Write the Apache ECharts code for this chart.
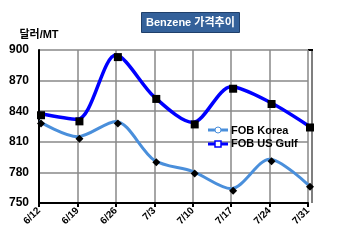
<!DOCTYPE html>
<html><head><meta charset="utf-8">
<script src="https://cdn.jsdelivr.net/npm/echarts@6/dist/echarts.min.js"></script>
<style>html,body{margin:0;padding:0;background:#fff}#c{width:350px;height:251px}</style>
</head><body><div id="c"></div>
<script>
const categories = ['6/12','6/19','6/26','7/3','7/10','7/17','7/24','7/31'];
const fobKorea = [830, 815, 830, 792, 781, 764, 793, 768];
const fobUSGulf = [838, 832, 895, 854, 829, 864, 849, 826];
const yTicks = [750, 780, 810, 840, 870, 900];

const chart = echarts.init(document.getElementById('c'));
const font = 'Arial, "Liberation Sans", "Noto Sans CJK KR", sans-serif';
const cKorea = '#4A8FDB', cUS = '#0000FF';
chart.setOption({
  animation: false,
  backgroundColor: '#fff',
  title: {
    text: 'Benzene 가격추이',
    left: 141, top: 12,
    backgroundColor: '#34619A',
    borderColor: '#1F3F6A', borderWidth: 1,
    padding: [5, 5, 5, 5],
    textStyle: { color: '#fff', fontSize: 11, fontWeight: 'bold', fontFamily: font }
  },
  grid: { left: 39, right: 42, top: 50, bottom: 48 },
  legend: {
    orient: 'vertical', left: 206, top: 125, padding: 0,
    itemWidth: 20, itemHeight: 8, itemGap: 2,
    textStyle: { fontSize: 11, fontWeight: 'bold', color: '#000', fontFamily: font },
    data: [
      { name: 'FOB Korea', icon: 'rect', itemStyle: { opacity: 0 } },
      { name: 'FOB US Gulf', icon: 'rect', itemStyle: { opacity: 0 } }
    ]
  },
  xAxis: {
    type: 'category', data: categories, boundaryGap: false,
    axisLine: { lineStyle: { color: '#000', width: 2 } },
    axisTick: { show: true, length: 4, lineStyle: { color: '#000', width: 2 } },
    splitLine: { show: true, lineStyle: { color: '#888', width: 1.5 } },
    axisLabel: { rotate: 45, color: '#000', fontSize: 10, fontWeight: 'bold', fontFamily: font, margin: 6 }
  },
  yAxis: {
    type: 'value', min: 750, max: 900, interval: 30,
    name: '달러/MT', nameGap: 10,
    nameTextStyle: { color: '#000', fontSize: 11, fontWeight: 'bold', fontFamily: font, align: 'center' },
    axisLine: { show: true, lineStyle: { color: '#000', width: 2 } },
    axisTick: { show: false },
    splitLine: { show: true, lineStyle: { color: '#888', width: 1.5 } },
    axisLabel: { color: '#000', fontSize: 12, fontWeight: 'bold', fontFamily: font, margin: 10,
      formatter: v => yTicks.includes(v) ? String(v) : '' }
  },
  graphic: [
    { type: 'line', shape: { x1: 312, y1: 50, x2: 312, y2: 203 }, style: { stroke: '#555', lineWidth: 1.5 } },
    { type: 'line', shape: { x1: 308, y1: 50, x2: 313, y2: 50 }, style: { stroke: '#000', lineWidth: 2 } },
    { type: 'line', z: 100, shape: { x1: 208, y1: 130, x2: 228, y2: 130 }, style: { stroke: cKorea, lineWidth: 3 } },
    { type: 'circle', z: 101, shape: { cx: 218, cy: 130, r: 3 }, style: { fill: '#fff', stroke: cKorea, lineWidth: 1 } },
    { type: 'line', z: 100, shape: { x1: 208, y1: 144, x2: 228, y2: 144 }, style: { stroke: cUS, lineWidth: 3 } },
    { type: 'rect', z: 101, shape: { x: 215, y: 141, width: 6, height: 6 }, style: { fill: '#fff', stroke: cUS, lineWidth: 1.5 } }
  ],
  series: [
    {
      name: 'FOB Korea', type: 'line', data: fobKorea, smooth: 0.3,
      symbol: 'diamond', symbolSize: 8, symbolOffset: [2, 2],
      lineStyle: { color: cKorea, width: 3 },
      itemStyle: { color: '#000' }
    },
    {
      name: 'FOB US Gulf', type: 'line', data: fobUSGulf, smooth: 0.3,
      symbol: 'rect', symbolSize: 8, symbolOffset: [2, 2],
      lineStyle: { color: cUS, width: 3.5 },
      itemStyle: { color: '#000' }
    }
  ]
});
</script></body></html>
